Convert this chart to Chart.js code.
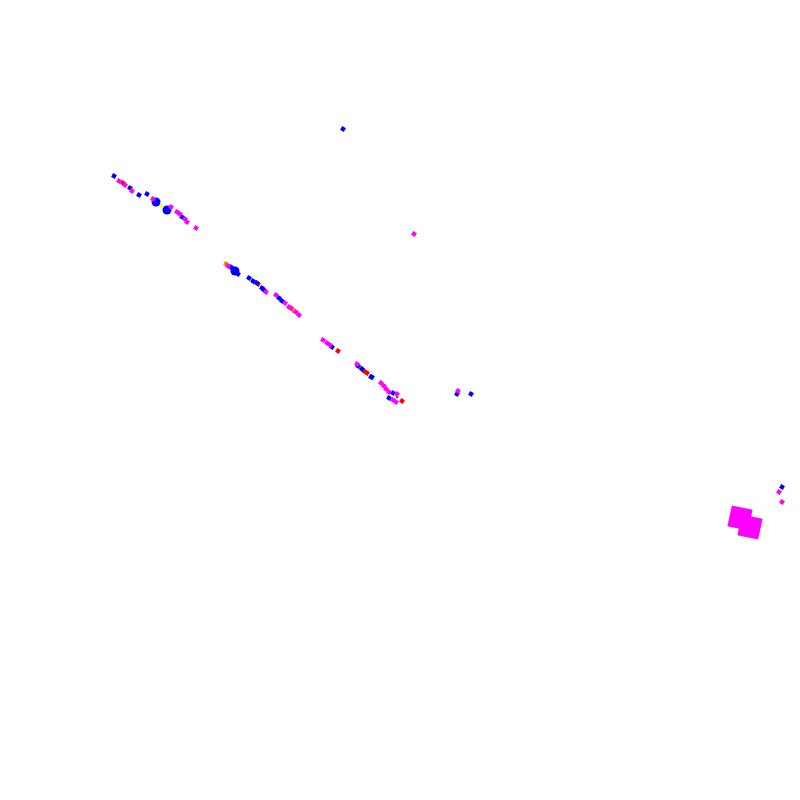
<!DOCTYPE html>
<html>
<head>
<meta charset="utf-8">
<script src="https://cdn.jsdelivr.net/npm/chart.js@4/dist/chart.umd.min.js"></script>
<style>
html,body{margin:0;padding:0;background:#fff;}
#wrap{width:800px;height:800px;position:relative;}
</style>
</head>
<body>
<div id="wrap"><canvas id="c"></canvas></div>
<script>
// Values (x, y in chart units, y grows downward)
const magentaX = [119,125,132,153,171,177,180,185,187,196,228,266,276,285,289,291,296,299,323,327,330,357,381,384,386,389,397,393,396,414,458,779,782];
const magentaY = [181,185,191,199,207,212,214,219,222,228,266,292,295,303,307,308,312,315,340,343,345,364,383,386,389,392,394,400,402,234,391,492,502];
const blueX = [114,130,139,147,182,231,238,249,253,257,262,264,279,282,332,358,362,371,372,393,389,457,471,782,343];
const blueY = [176,188,195,194,217,267,274,278,281,283,288,290,298,301,347,366,369,377,377,393,398,394,394,487,129];
const blueBigX = [156,167,235];
const blueBigY = [202,210,271];
const redX = [123,258,338,364,367,402];
const redY = [183,284,351,371,373,401];
const orangeX = [226,232,254,292,294,361];
const orangeY = [264,269,282,309,311,368];
const yellowX = [161];
const yellowY = [206];
const greenX = [397];
const greenY = [397];
const magentaBigX = [750,740];
const magentaBigY = [527,518];

const pts = (xs, ys) => xs.map((x, i) => ({x: x, y: ys[i]}));

function ds(xs, ys, color, radius, style, rotation) {
  return {
    data: pts(xs, ys),
    backgroundColor: color,
    borderColor: color,
    borderWidth: 0,
    pointRadius: radius,
    pointHoverRadius: radius,
    pointStyle: style,
    rotation: rotation,
    clip: false
  };
}

new Chart(document.getElementById('c'), {
  type: 'scatter',
  data: {
    datasets: [
      ds(magentaBigX, magentaBigY, '#ff00ff', 15, 'rect', 12),
      ds(magentaX, magentaY, '#ff00ff', 3, 'rect', 30),
      ds(blueX, blueY, '#0000ff', 3, 'rect', 30),
      ds(blueBigX, blueBigY, '#0000ff', 4.5, 'circle', 0),
      ds(redX, redY, '#ff0000', 3, 'rect', 30),
      ds(orangeX, orangeY, '#ff8000', 3, 'rect', 30),
      ds(yellowX, yellowY, '#ffff00', 2.4, 'rect', 30),
      ds(greenX, greenY, '#00a000', 1.8, 'rect', 0)
    ]
  },
  options: {
    responsive: true,
    maintainAspectRatio: false,
    animation: false,
    layout: {padding: 0, autoPadding: false},
    plugins: {legend: {display: false}, tooltip: {enabled: false}},
    scales: {
      x: {type: 'linear', min: 0, max: 800, display: false},
      y: {type: 'linear', min: 0, max: 800, reverse: true, display: false}
    }
  }
});
</script>
</body>
</html>
